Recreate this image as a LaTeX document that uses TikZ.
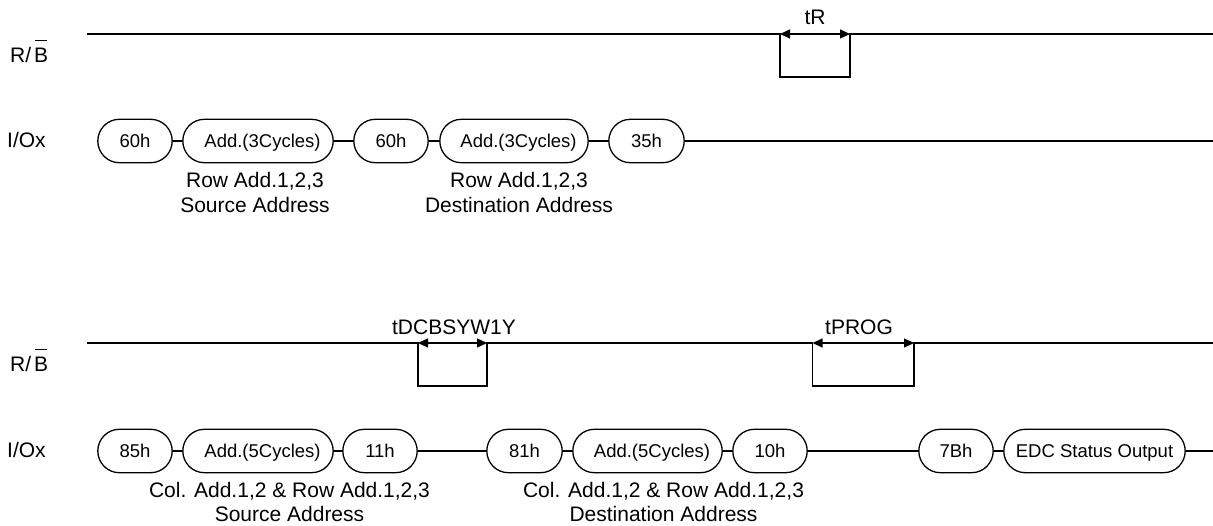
\documentclass[tikz,border=0pt]{standalone}
\usepackage{fontspec}
\setmainfont{Liberation Sans}
\usetikzlibrary{arrows.meta,calc}
\tikzset{
  sig/.style={line width=1.3pt, line join=miter},
  lbl/.style={font=\fontsize{21}{24.5}\selectfont, inner sep=0pt, anchor=base},
  siglbl/.style={font=\fontsize{21}{24.5}\selectfont, inner sep=0pt, anchor=base west},
  captext/.style={font=\fontsize{18.5}{22}\selectfont, inner sep=0pt, text height=13.2pt, text depth=0pt, minimum height=43pt},
  spanarrow/.style={line width=1.3pt, {Triangle[length=10pt,width=9pt]}-{Triangle[length=10pt,width=9pt]}},
}
% capsule: name, x left, x right, y centre, text  (semicircular ends, radius 21.5)
\newcommand\capsule[5]{%
  \node[captext, minimum width=#3pt-#2pt] (#1) at ({(#2+#3)/2},#4) {#5};
  \draw[sig]
    ($(#1.north west)+(21.5pt,0)$) -- ($(#1.north east)+(-21.5pt,0)$)
    .. controls ($(#1.north east)+(-9.6pt,0)$) and ($(#1.east)+(0,11.9pt)$) .. (#1.east)
    .. controls ($(#1.east)+(0,-11.9pt)$) and ($(#1.south east)+(-9.6pt,0)$) .. ($(#1.south east)+(-21.5pt,0)$)
    -- ($(#1.south west)+(21.5pt,0)$)
    .. controls ($(#1.south west)+(9.6pt,0)$) and ($(#1.west)+(0,-11.9pt)$) .. (#1.west)
    .. controls ($(#1.west)+(0,11.9pt)$) and ($(#1.north west)+(9.6pt,0)$) .. ($(#1.north west)+(21.5pt,0)$)
    -- cycle;
}
\newcommand\bbar{R/\kern3pt\makebox[0pt][l]{\kern1pt\rule[21.5pt]{12pt}{1.2pt}}B}
\begin{document}
\begin{tikzpicture}[x=1pt,y=-1pt]
\useasboundingbox (0,0) rectangle (1213,526);

% ---------- top diagram ----------
\node[siglbl] (rb1) at (10,63) {\bbar};
\node[siglbl] (io1) at (7,148) {I/Ox};

\coordinate (r1s) at (87,34);
\coordinate (r1a) at (780,34);
\coordinate (r1b) at (850,34);
\coordinate (r1e) at (1213,34);
\draw[sig] (r1s) -- (r1a) -- (780,77) -- (850,77) -- (r1b) -- (r1e);
\draw[spanarrow] (r1a) -- (r1b);
\node[lbl] (tR) at (815,25) {tR};

\capsule{a1}{98}{172}{141}{60h}
\capsule{a2}{183}{333}{141}{\hspace*{9pt}Add.(3Cycles)}
\capsule{a3}{354}{428}{141}{60h}
\capsule{a4}{440}{588}{141}{\hspace*{9pt}Add.(3Cycles)}
\capsule{a5}{609}{684}{141}{35h}
\coordinate (aend) at (1213,141);
\draw[sig] (a1.east) -- (a2.west);
\draw[sig] (a2.east) -- (a3.west);
\draw[sig] (a3.east) -- (a4.west);
\draw[sig] (a4.east) -- (a5.west);
\draw[sig] (a5.east) -- (aend);

\node[lbl] (la1) at (255,188) {Row Add.1,2,3};
\node[lbl] (la2) at (255,212.5) {Source Address};
\node[lbl] (lb1) at (519,188) {Row Add.1,2,3};
\node[lbl] (lb2) at (519,212.5) {Destination Address};

% ---------- bottom diagram ----------
\node[siglbl] (rb2) at (10,372) {\bbar};
\node[siglbl] (io2) at (7,457) {I/Ox};

\coordinate (r2s) at (87,343);
\coordinate (r2a) at (418,343);
\coordinate (r2b) at (487,343);
\coordinate (r2c) at (812.5,343);
\coordinate (r2d) at (914,343);
\coordinate (r2e) at (1213,343);
\draw[sig] (r2s) -- (r2a) -- (418,386) -- (487,386) -- (r2b) -- (r2c)
  -- (812.5,386) -- (914,386) -- (r2d) -- (r2e);
\draw[spanarrow] (r2a) -- (r2b);
\draw[spanarrow] (r2c) -- (r2d);
\node[lbl] (tD) at (454,335) {tDCBSYW1Y};
\node[lbl] (tP) at (859,335) {tPROG};

\capsule{b1}{98}{172}{451}{85h}
\capsule{b2}{183}{333}{451}{\hspace*{9pt}Add.(5Cycles)}
\capsule{b3}{343}{417}{451}{11h}
\capsule{b4}{487}{562}{451}{81h}
\capsule{b5}{573}{722}{451}{\hspace*{9pt}Add.(5Cycles)}
\capsule{b6}{733}{807}{451}{10h}
\capsule{b7}{919}{993}{451}{7Bh}
\capsule{b8}{1004}{1185}{451}{EDC Status Output}
\coordinate (bend) at (1213,451);
\draw[sig] (b1.east) -- (b2.west);
\draw[sig] (b2.east) -- (b3.west);
\draw[sig] (b3.east) -- (b4.west);
\draw[sig] (b4.east) -- (b5.west);
\draw[sig] (b5.east) -- (b6.west);
\draw[sig] (b6.east) -- (b7.west);
\draw[sig] (b7.east) -- (b8.west);
\draw[sig] (b8.east) -- (bend);

\node[lbl] (lc1) at (289.5,497) {Col. Add.1,2 \& Row Add.1,2,3};
\node[lbl] (lc2) at (289.5,521.5) {Source Address};
\node[lbl] (ld1) at (663.5,497) {Col. Add.1,2 \& Row Add.1,2,3};
\node[lbl] (ld2) at (663.5,521.5) {Destination Address};
\end{tikzpicture}
\end{document}
